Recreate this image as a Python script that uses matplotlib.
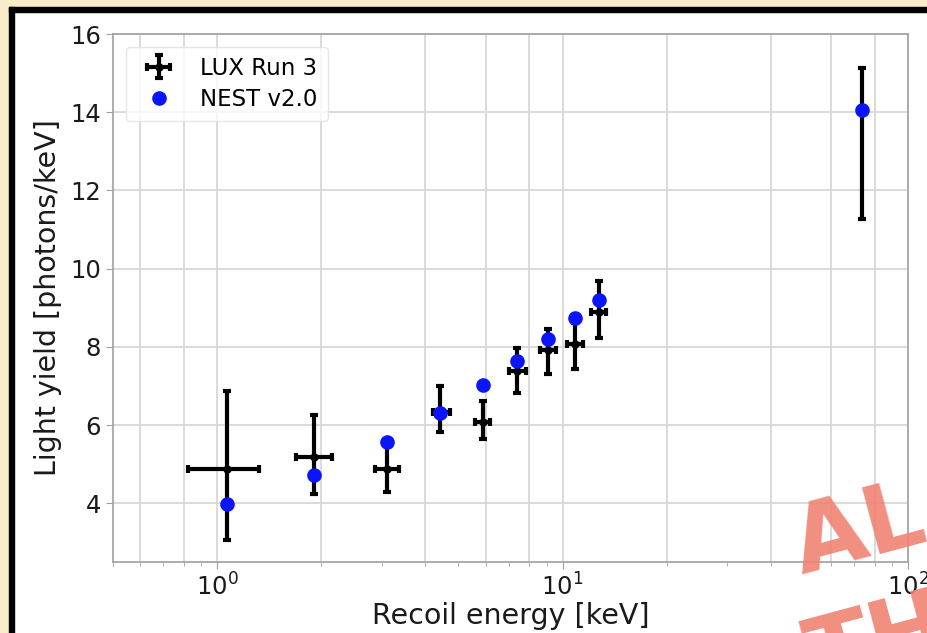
import numpy as np
import matplotlib
matplotlib.use("Agg")
import matplotlib.pyplot as plt
from matplotlib.patches import Rectangle
from matplotlib.ticker import LogLocator, NullFormatter

# LUX Run 3 measurements
lux_energy = [1.07, 1.91, 3.11, 4.43, 5.89, 7.38, 9.07, 10.88, 12.73, 73.8]
lux_energy_lo = [0.826, 1.689, 2.862, 4.21, 5.57, 7.0, 8.58, 10.3, 12.1, 73.8]
lux_energy_hi = [1.325, 2.145, 3.365, 4.71, 6.18, 7.82, 9.59, 11.45, 13.4, 73.8]
lux_yield = [4.87, 5.18, 4.87, 6.34, 6.08, 7.38, 7.91, 8.08, 8.89, 14.05]
lux_yield_lo = [3.05, 4.23, 4.28, 5.82, 5.64, 6.82, 7.30, 7.44, 8.24, 11.26]
lux_yield_hi = [6.86, 6.27, 5.50, 6.99, 6.62, 7.96, 8.47, 8.60, 9.68, 15.14]

# NEST v2.0 predictions
nest_energy = [1.07, 1.91, 3.11, 4.43, 5.89, 7.38, 9.07, 10.88, 12.73, 73.8]
nest_yield = [3.98, 4.72, 5.57, 6.32, 7.02, 7.64, 8.21, 8.75, 9.21, 14.05]

even_minor = [0.6, 0.8, 2, 4, 6, 8, 20, 40, 60, 80]

lux_energy = np.array(lux_energy)
lux_yield = np.array(lux_yield)
xerr = [lux_energy - np.array(lux_energy_lo), np.array(lux_energy_hi) - lux_energy]
yerr = [lux_yield - np.array(lux_yield_lo), np.array(lux_yield_hi) - lux_yield]

fig = plt.figure(figsize=(9.27, 6.33), dpi=100)
fig.patch.set_facecolor("white")

# slide background and frame
cream = "#f8ecc9"
fig.add_artist(Rectangle((0, 0), 9 / 927, 1, transform=fig.transFigure, color=cream, zorder=0))
fig.add_artist(Rectangle((0, 1 - 7 / 633), 1, 7 / 633, transform=fig.transFigure, color=cream, zorder=0))
fig.add_artist(Rectangle((9 / 927, 0), 5 / 927, 1 - 7 / 633, transform=fig.transFigure, color="black", zorder=0))
fig.add_artist(Rectangle((9 / 927, 1 - 12 / 633), 1, 5 / 633, transform=fig.transFigure, color="black", zorder=0))

ax = fig.add_axes([113 / 927, 71 / 633, 795 / 927, 528 / 633])
ax.set_xscale("log")
ax.set_xlim(0.5, 100)
ax.set_ylim(2.5, 16)
ax.set_yticks([4, 6, 8, 10, 12, 14, 16])
ax.xaxis.set_minor_locator(LogLocator(base=10, subs=np.arange(2, 10)))
ax.xaxis.set_minor_formatter(NullFormatter())

ax.grid(True, which="major", color="#d8d8d8", linewidth=1.3)
for v in even_minor:
    ax.axvline(v, color="#d8d8d8", linewidth=1.3, zorder=0.5)
ax.set_axisbelow(True)

for s in ax.spines.values():
    s.set_color("#a0a0a0")
    s.set_linewidth(1.2)
ax.tick_params(which="both", colors="#a0a0a0", labelcolor="#1a1a1a", labelsize=17.5)
ax.tick_params(which="major", length=5)
ax.tick_params(which="minor", length=3)

lux = ax.errorbar(lux_energy, lux_yield, xerr=xerr, yerr=yerr, fmt="o", color="black",
                  ms=5, elinewidth=3, capsize=3, capthick=3, label="LUX Run 3", zorder=3)
nest, = ax.plot(nest_energy, nest_yield, "o", color="#0a14ff", ms=9.5, label="NEST v2.0", zorder=4)

ax.set_xlabel("Recoil energy [keV]", fontsize=20.5, color="#1a1a1a", labelpad=1)
ax.set_ylabel("Light yield [photons/keV]", fontsize=20.5, color="#1a1a1a", labelpad=6)

leg = ax.legend([lux, nest], ["LUX Run 3", "NEST v2.0"], loc="upper left", fontsize=16.5,
                handletextpad=0.8, borderpad=0.45, labelspacing=0.35, framealpha=0.8,
                borderaxespad=0.55)
leg.get_frame().set_edgecolor("#e0e0e0")

# watermark
fig.text(802 / 927, 1 - 575 / 633, "AL", fontsize=68, fontweight="bold", color="#f08272",
         alpha=0.9, rotation=15, rotation_mode="anchor", ha="left", va="baseline", zorder=10)
fig.text(815 / 927, 1 - 688 / 633, "TH", fontsize=68, fontweight="bold", color="#f08272",
         alpha=0.9, rotation=15, rotation_mode="anchor", ha="left", va="baseline", zorder=10)

fig.savefig("out.png", dpi=100, facecolor=fig.get_facecolor())
